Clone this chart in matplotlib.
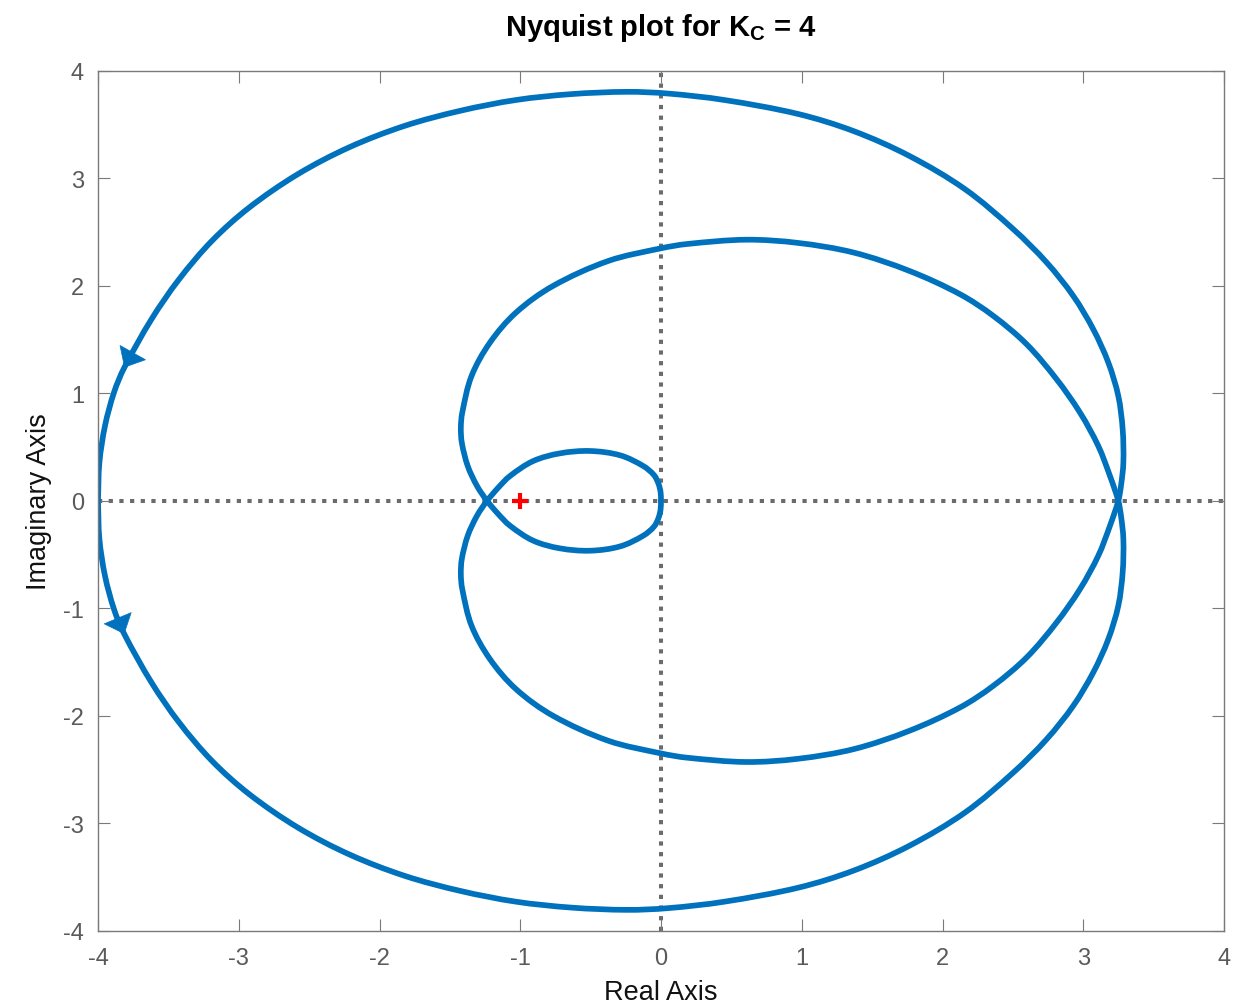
import matplotlib
matplotlib.use("Agg")
import matplotlib.pyplot as plt
from matplotlib.patches import FancyArrowPatch, PathPatch
from matplotlib.path import Path
import numpy as np

plt.rcParams['font.family'] = ['Liberation Sans', 'DejaVu Sans']
plt.rcParams['axes.unicode_minus'] = False
plt.rcParams['mathtext.fontset'] = 'custom'
plt.rcParams['mathtext.rm'] = 'Liberation Sans'
plt.rcParams['mathtext.bf'] = 'Liberation Sans:bold'

# upper half of the outer arc, from the -4 crossing over the top to the right crossing
outer_re = [-4.00, -3.99, -3.95, -3.886, -3.813, -3.62, -3.425, -3.19, -2.925, -2.58,
            -2.215, -1.82, -1.425, -1.03, -0.636, -0.24, 0.05, 0.45, 0.974, 1.37,
            1.764, 2.16, 2.503, 2.740, 2.929, 3.071, 3.178, 3.249, 3.280, 3.285,
            3.268, 3.249]
outer_im = [0.0, 0.356, 0.70, 1.01, 1.24, 1.69, 2.06, 2.42, 2.73, 3.04,
            3.29, 3.49, 3.63, 3.73, 3.785, 3.806, 3.79, 3.73, 3.60, 3.44,
            3.21, 2.90, 2.528, 2.218, 1.907, 1.597, 1.287, 0.976, 0.666, 0.356,
            0.138, 0.0]

# upper half of the middle loop, from the right crossing back to the cusp
middle_re = [3.249, 3.190, 3.107, 2.977, 2.811, 2.598, 2.361, 2.124, 1.764, 1.37,
             0.974, 0.606, 0.185, 0.0, -0.373, -0.767, -1.03, -1.215, -1.346, -1.412,
             -1.422, -1.415, -1.373, -1.307, -1.236]
middle_im = [0.0, 0.231, 0.510, 0.821, 1.131, 1.457, 1.721, 1.923, 2.14, 2.31,
             2.40, 2.43, 2.39, 2.35, 2.233, 2.0, 1.752, 1.473, 1.162, 0.821,
             0.682, 0.54, 0.324, 0.138, 0.0]

# upper half of the small loop, from the cusp to the origin
inner_re = [-1.236, -1.156, -1.073, -0.907, -0.718, -0.504, -0.291, -0.126, -0.05, -0.018, -0.003, 0.0]
inner_im = [0.0, 0.123, 0.231, 0.371, 0.442, 0.464, 0.424, 0.324, 0.24, 0.16, 0.08, 0.0]

critical_point = (-1, 0)
kc = 4

# positive frequencies: lower outer arc, upper middle loop, lower small loop
pos_re = np.concatenate([outer_re, middle_re[1:], inner_re[1:]])
pos_im = np.concatenate([-np.array(outer_im), middle_im[1:], -np.array(inner_im[1:])])


def smooth_path(xs, ys):
    # cubic bezier through the points, tangents from the neighbours
    p = np.column_stack([xs, ys])
    n = len(p)
    verts = [p[0]]
    codes = [Path.MOVETO]
    for i in range(n - 1):
        a = p[max(i - 1, 0)]
        b = p[i]
        c = p[i + 1]
        d = p[min(i + 2, n - 1)]
        seg = np.linalg.norm(c - b)
        t1 = c - a
        t2 = d - b
        c1 = b + t1 * seg / (3 * np.linalg.norm(t1))
        c2 = c - t2 * seg / (3 * np.linalg.norm(t2))
        verts += [c1, c2, c]
        codes += [Path.CURVE4] * 3
    return Path(verts, codes)


blue = '#0072BD'
fig = plt.figure(figsize=(12.5, 10.04), dpi=100)
ax = fig.add_axes([0.0784, 0.072, 0.9008, 0.8563])

ax.axhline(0, color='#6b6b6b', lw=2.9, ls=(0, (1.05, 1.6)), zorder=1)
ax.axvline(0, color='#6b6b6b', lw=2.9, ls=(0, (1.05, 1.6)), zorder=1)

# positive and negative frequency branches (mirror images)
for sign in (1, -1):
    ax.add_patch(PathPatch(smooth_path(pos_re, sign * pos_im), fill=False,
                           edgecolor=blue, lw=4.1, capstyle='round', zorder=2))

# direction arrows on the outer arc
k = 4
for tail, tip in [((outer_re[k + 1], outer_im[k + 1]), (outer_re[k], outer_im[k])),
                  ((outer_re[k - 1], -outer_im[k - 1]), (outer_re[k], -outer_im[k]))]:
    arr = FancyArrowPatch(tail, tip, arrowstyle='-|>,head_length=12,head_width=10.5',
                          mutation_scale=1, color=blue, lw=0.5, shrinkA=0, shrinkB=0, zorder=3)
    ax.add_patch(arr)

ax.plot(*critical_point, marker='+', color='red', ms=11, mew=3, zorder=4)

ax.set_xlim(-4, 4)
ax.set_ylim(-4, 4)
ax.set_xticks(range(-4, 5))
ax.set_yticks(range(-4, 5))
ax.tick_params(direction='in', length=8.6, width=0.8, color='#7a7a7a',
               labelsize=17, labelcolor='#5a5a5a', top=True, right=True, pad=12)
ax.tick_params(axis='y', pad=10)
for s in ax.spines.values():
    s.set_color('#7a7a7a')
    s.set_linewidth(1.0)

ax.set_xlabel('Real Axis', fontsize=19.5, color='#111111')
ax.set_ylabel('Imaginary Axis', fontsize=19.5, color='#111111')
ax.xaxis.set_label_coords(0.5, -0.056)
ax.yaxis.set_label_coords(-0.041, 0.5)
ax.set_title(r'Nyquist plot for K$_{\mathbf{C}}$ = %d' % kc, fontsize=21,
             fontweight='bold', pad=26)

fig.savefig('out.png', dpi=100)
